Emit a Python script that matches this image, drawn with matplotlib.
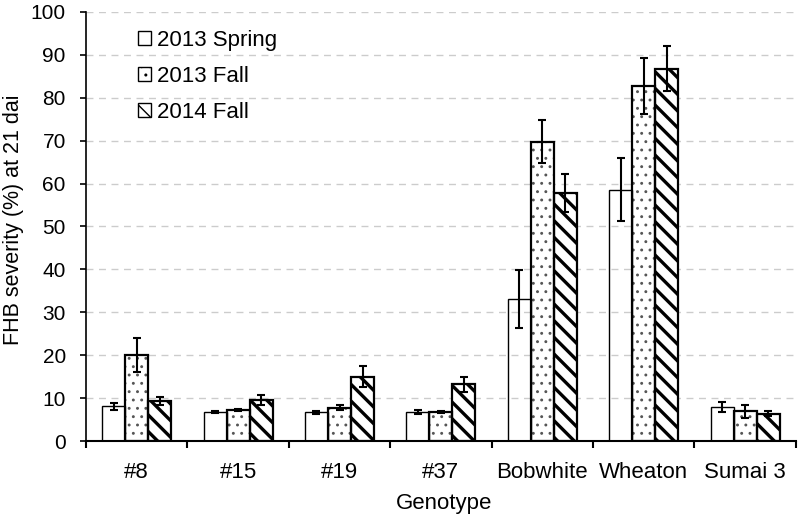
import matplotlib
matplotlib.use("Agg")
import matplotlib.pyplot as plt
import numpy as np
from matplotlib.patches import Patch

plt.rcParams['font.family'] = ['Liberation Sans', 'DejaVu Sans']
plt.rcParams['hatch.linewidth'] = 1.0

categories = ["#8", "#15", "#19", "#37", "Bobwhite", "Wheaton", "Sumai 3"]
series_names = ["2013 Spring", "2013 Fall", "2014 Fall"]
spring13 = [8.1, 6.8, 6.7, 6.8, 33.1, 58.6, 8.0]
spring13_err = [0.8, 0.2, 0.3, 0.4, 6.7, 7.3, 1.2]
fall13 = [20.1, 7.2, 7.8, 6.8, 69.7, 82.8, 6.9]
fall13_err = [4.0, 0.2, 0.6, 0.2, 5.0, 6.5, 1.5]
fall14 = [9.3, 9.6, 15.0, 13.2, 57.8, 86.8, 6.4]
fall14_err = [0.9, 1.1, 2.5, 1.8, 4.4, 5.3, 0.6]
yticks = [0, 10, 20, 30, 40, 50, 60, 70, 80, 90, 100]

fig = plt.figure(figsize=(7.99, 5.18), dpi=100)
ax = fig.add_axes([0.1076, 0.1486, 0.8885, 0.8284])

x = np.arange(len(categories))
w = 0.227
styles = [
    dict(hatch=None, hcolor='black', hlw=1.0, lw=1.0),
    dict(hatch='..', hcolor='#555555', hlw=0.9, lw=1.6),
    dict(hatch='\\\\', hcolor='black', hlw=2.4, lw=1.6),
]
data = [(spring13, spring13_err), (fall13, fall13_err), (fall14, fall14_err)]
handles = []
for k, ((vals, errs), st) in enumerate(zip(data, styles)):
    pos = x + (k - 1) * w
    if st['hatch']:
        hb = ax.bar(pos, vals, w, color='white', edgecolor=st['hcolor'],
                    linewidth=0, hatch=st['hatch'], zorder=2)
        for b in hb:
            try:
                b.set_hatch_linewidth(st['hlw'])
            except Exception:
                pass
    ax.bar(pos, vals, w, fill=False, edgecolor='black',
           linewidth=st['lw'], zorder=2.5, label=series_names[k])
    ax.errorbar(pos, vals, yerr=errs, fmt='none', ecolor='black',
                elinewidth=1.5, capsize=3, capthick=1.5, zorder=3)

for k, st in enumerate(styles):
    p = Patch(facecolor='white', edgecolor='black', linewidth=1.0,
              hatch=st['hatch'], label=series_names[k])
    try:
        p.set_hatch_linewidth(min(st['hlw'], 1.5))
    except Exception:
        pass
    handles.append(p)

ax.set_ylim(0, 100)
ax.set_xlim(-0.5, len(categories) - 0.5)
ax.set_yticks(yticks)
ax.set_yticklabels([str(v) for v in yticks], fontsize=15)
ax.yaxis.grid(True, linestyle=(0, (5, 4)), color='#cccccc', linewidth=1, zorder=0)
ax.set_axisbelow(True)
ax.tick_params(axis='y', length=4.5, width=1.2, pad=10, direction='out')

ax.set_xticks(x)
ax.set_xticklabels(categories, fontsize=16)
ax.tick_params(axis='x', which='major', length=0, pad=15)
ax.set_xticks(np.arange(-0.5, len(categories) - 0.4, 1.0), minor=True)
ax.tick_params(axis='x', which='minor', length=5, width=1.5, direction='out')

for s in ['top', 'right']:
    ax.spines[s].set_visible(False)
ax.spines['left'].set_color('black')
ax.spines['left'].set_linewidth(1.2)
ax.spines['bottom'].set_linewidth(1.5)

fig.text(14 / 799, 1 - 220 / 518, "FHB severity (%) at 21 dai", fontsize=15.5,
         rotation=90, ha='center', va='center')
fig.text(444 / 799, 1 - 503 / 518, "Genotype", fontsize=16, ha='center', va='center')

leg = ax.legend(handles=handles, loc='upper left', bbox_to_anchor=(0.045, 1.005),
                frameon=False, fontsize=16, handlelength=0.6, handleheight=0.6,
                handletextpad=0.25, labelspacing=0.68, borderaxespad=0.5)

fig.savefig("out.png", dpi=100)
